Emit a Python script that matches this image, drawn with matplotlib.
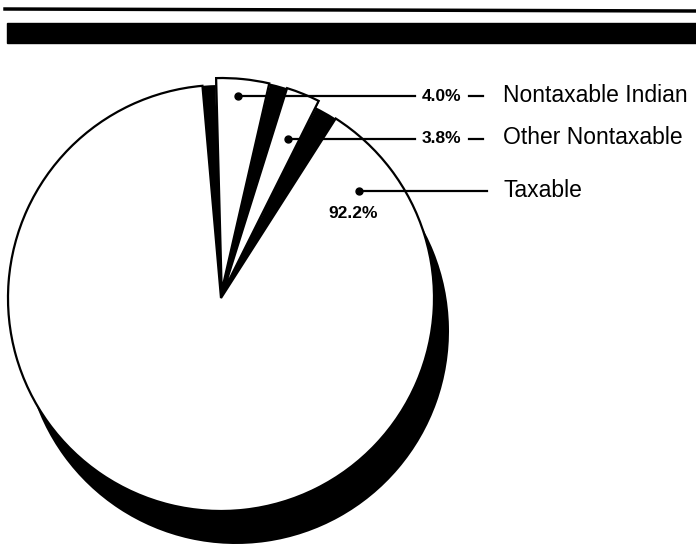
import matplotlib.pyplot as plt
import numpy as np
from matplotlib.patches import Rectangle

# Data
labels = ['Nontaxable Indian', 'Other Nontaxable', 'Taxable']
shares = [4.0, 3.8, 92.2]
pct_labels = ['4.0%', '3.8%', '92.2%']

plt.rcParams['font.family'] = ['Liberation Sans', 'DejaVu Sans']

fig = plt.figure(figsize=(6.96, 5.5), dpi=100)
ax = fig.add_axes([0, 0, 1, 1])

# pie geometry (pixel-like data units, y up)
cx, cy, R = 221, 252, 213
start = 91.5
explode = [7, 7, 0]

# drop shadow
ax.pie(shares, radius=R, center=(cx + 15, cy - 33), startangle=start,
       counterclock=False, explode=explode, colors=['black'] * 3,
       frame=True, wedgeprops=dict(linewidth=0, zorder=1))

# black base showing through the gaps between slices
ax.pie(shares, radius=R, center=(cx, cy), startangle=start,
       counterclock=False, colors=['black'] * 3,
       frame=True, wedgeprops=dict(linewidth=0, zorder=2))
ax.pie(shares, radius=R + explode[0], center=(cx, cy), startangle=start,
       counterclock=False, colors=['black', 'black', 'none'],
       frame=True, wedgeprops=dict(linewidth=0, zorder=2))

# white slices
wedges, _ = ax.pie(shares, radius=R, center=(cx, cy), startangle=start,
                   counterclock=False, explode=explode, colors=['white'] * 3,
                   frame=True,
                   wedgeprops=dict(edgecolor='black', linewidth=1.6, zorder=3))

# narrow the slices a little so the black gaps show (as in the print)
trims = [(0, 0), (0, 4.5), (3.5, 6.0)]
for w, (t1, t2) in zip(wedges, trims):
    w.set_theta1(w.theta1 + t1)
    w.set_theta2(w.theta2 - t2)

# leader lines with dots
anchors = [(85.2, 0.95), (67.2, 0.81), (37.6, 0.82)]
line_end = [415, 415, 487]
for i, (ang, frac) in enumerate(anchors):
    px = cx + frac * R * np.cos(np.radians(ang))
    py = cy + frac * R * np.sin(np.radians(ang))
    ax.plot([px, line_end[i]], [py, py], color='black', lw=1.6, zorder=4)
    ax.plot(px, py, 'o', color='black', ms=5, zorder=4)
    ax.text(503, py + 1, labels[i], fontsize=16.5, va='center', ha='left', zorder=4)
    if i < 2:
        ax.text(422, py, pct_labels[i], fontsize=12.5, fontweight='bold',
                va='center', ha='left', zorder=4)
        ax.plot([469, 483], [py, py], color='black', lw=1.6, zorder=4)
    else:
        ax.text(353, py - 22, pct_labels[i], fontsize=12.5, fontweight='bold',
                va='center', ha='center', zorder=4)

# header rule and black band
ax.plot([5, 696], [541, 539], color='black', lw=2.5, zorder=4)
ax.add_patch(Rectangle((7, 507), 689, 20, color='black', zorder=4))

ax.set_xlim(0, 696)
ax.set_ylim(0, 550)
ax.set_aspect('equal')
ax.axis('off')

plt.savefig('out.png', dpi=100)
